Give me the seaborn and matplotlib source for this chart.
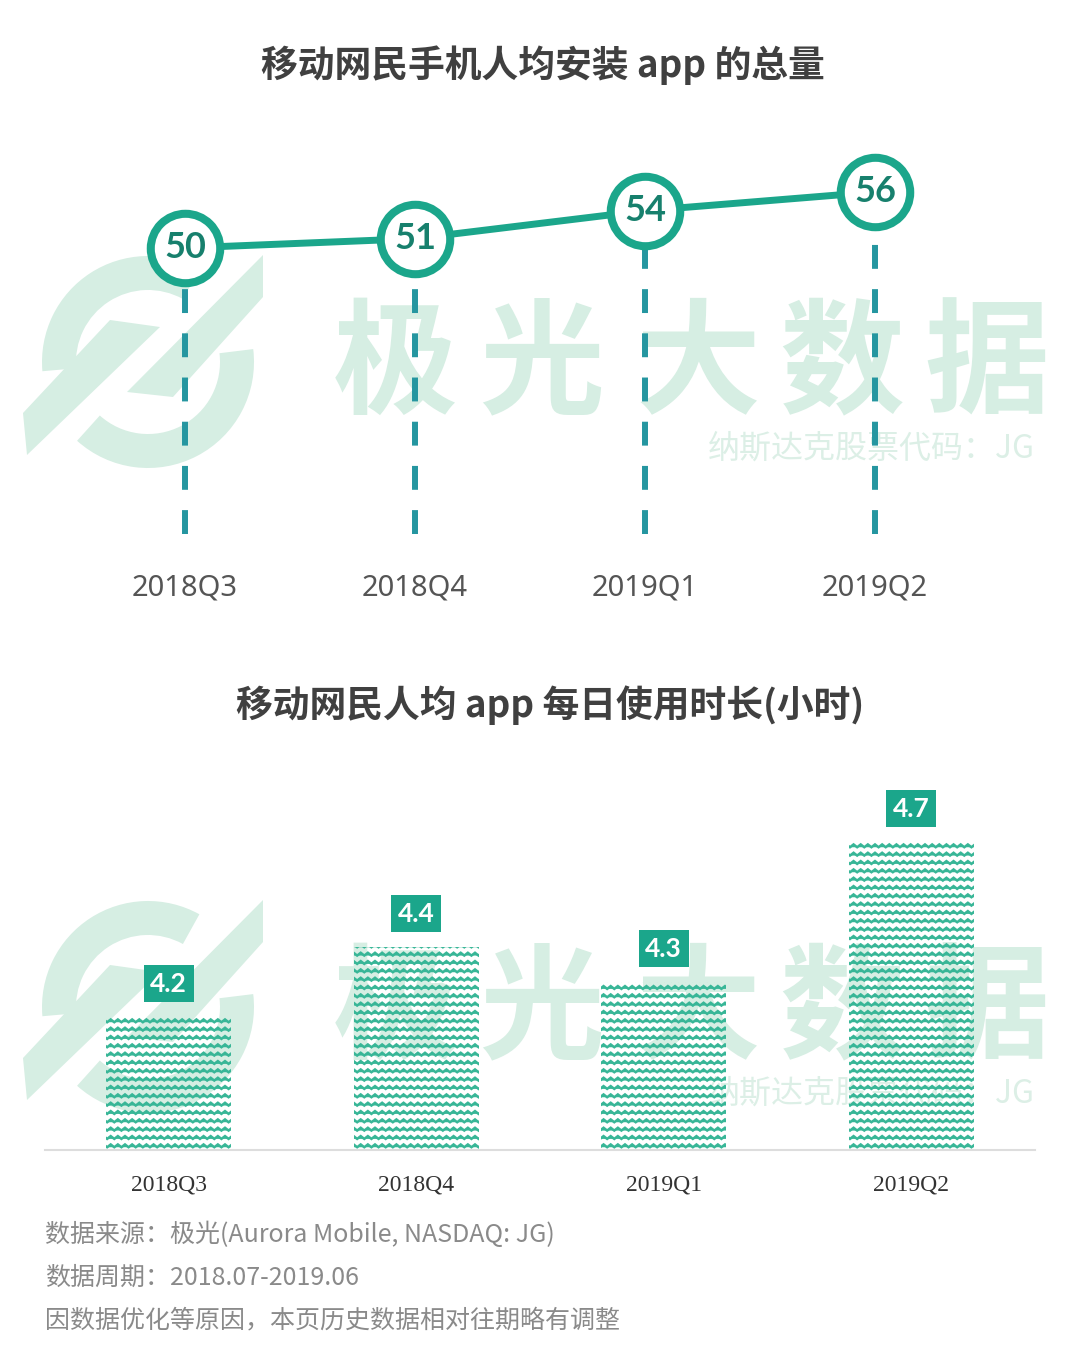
import warnings
import numpy as np
import matplotlib
matplotlib.use('Agg')
import matplotlib.pyplot as plt
import matplotlib.hatch as mhatch
from matplotlib.path import Path
from matplotlib.transforms import Affine2D
from matplotlib.patches import Wedge, Polygon
import seaborn as sns

warnings.filterwarnings('ignore')

# Data
quarters = ['2018Q3', '2018Q4', '2019Q1', '2019Q2']
apps_per_user = [50, 51, 54, 56]
hours_per_day = [4.2, 4.4, 4.3, 4.7]

title_top = '移动网民手机人均安装 app 的总量'
title_bottom = '移动网民人均 app 每日使用时长(小时)'
notes = [
    '数据来源：极光(Aurora Mobile, NASDAQ: JG)',
    '数据周期：2018.07-2019.06',
    '因数据优化等原因，本页历史数据相对往期略有调整',
]
wm_chars = ['极', '光', '大', '数', '据']
wm_sub = '纳斯达克股票代码：JG'

# Colours
teal = '#1ba68b'
teal_dark = '#17806d'
dash_col = '#2596a0'
wave_col = '#38b697'
wm_col = '#d6eee3'


# Zigzag hatch, used as 'zz' (bar texture)
class ZigZagHatch(mhatch.HatchPatternBase):
    def __init__(self, hatch, density):
        self.num_rows = hatch.count('z') * density
        self.n_pts = 29
        self.num_vertices = self.num_rows * self.n_pts

    def set_vertices_and_codes(self, vertices, codes):
        xs = np.linspace(0, 1, self.n_pts)
        amp = np.where(np.arange(self.n_pts) % 2 == 0, -0.014, 0.014)
        for r in range(self.num_rows):
            y0 = (r + 0.5) / self.num_rows
            sl = slice(r * self.n_pts, (r + 1) * self.n_pts)
            vertices[sl, 0] = xs
            vertices[sl, 1] = y0 + amp
            codes[sl] = Path.LINETO
            codes[r * self.n_pts] = Path.MOVETO


mhatch._hatch_types.append(ZigZagHatch)

sns.set_theme(style='white')
plt.rcParams['font.family'] = ['Noto Sans CJK SC', 'DejaVu Sans']
plt.rcParams['hatch.linewidth'] = 1.8

W, H = 1080, 1350
fig = plt.figure(figsize=(10.8, 13.5), dpi=100)
fig.patch.set_facecolor('white')
px_tr = Affine2D().scale(1 / W, 1 / H) + fig.transFigure


def fx(px):
    return px / W


def fy(py):
    return 1 - py / H


# Watermarks (behind everything)
def draw_watermark(dy):
    cx, cy = 148, 362 + dy
    r_out, r_in = 106, 72
    for t1, t2 in [(61, 185), (228, 367)]:
        w = Wedge((cx, H - cy), r_out, t1, t2, width=r_out - r_in, transform=px_tr,
                  facecolor=wm_col, edgecolor='none', zorder=-5)
        fig.patches.append(w)
    for pts in [[(23, 413), (110, 320), (160, 327), (27, 455)],
                [(263, 255), (263, 297), (173, 397), (127, 392)]]:
        poly = Polygon([(x, H - (y + dy)) for x, y in pts], closed=True, transform=px_tr,
                       facecolor=wm_col, edgecolor='none', zorder=-5)
        fig.patches.append(poly)
    for ch, x in zip(wm_chars, [395, 542, 698, 842, 987]):
        fig.text(fx(x), fy(367 + dy), ch, fontsize=90, fontweight='bold', color=wm_col,
                 ha='center', va='center', zorder=-5)
    fig.text(fx(1035), fy(449 + dy), wm_sub, fontsize=23, color='#dcefe6',
             ha='right', va='center', zorder=-5)


draw_watermark(0)
draw_watermark(645)

# Titles
fig.text(0.503, fy(65), title_top, fontsize=26.5, fontweight='bold', color='#404040',
         ha='center', va='center')
fig.text(0.509, fy(705), title_bottom, fontsize=26.5, fontweight='bold', color='#404040',
         ha='center', va='center')

# Top chart: line with circle markers
ax1 = fig.add_axes([fx(70), fy(540), fx(920), 390 / H])
ax1.set_facecolor('none')
ymin_top = 18.7
sns.lineplot(x=quarters, y=apps_per_user, ax=ax1, color=teal, linewidth=5,
             marker='o', markersize=50, markerfacecolor='white',
             markeredgecolor=teal, markeredgewidth=5.8, zorder=3)
ax1.vlines(range(len(quarters)), ymin_top + 0.6, apps_per_user, colors=dash_col,
           linewidth=4.3, linestyles=(0, (4, 3.4)), zorder=2)
for i, v in enumerate(apps_per_user):
    ax1.text(i, v, str(v), ha='center', va='center', fontsize=26, fontweight='bold',
             color=teal_dark, family=['Lato', 'Liberation Sans'], zorder=4)
ax1.set_xlim(-0.5, 3.5)
ax1.set_ylim(ymin_top, 60.5)
ax1.set_yticks([])
ax1.set_xlabel('')
ax1.set_ylabel('')
ax1.tick_params(axis='x', length=0, pad=24, labelsize=21, labelcolor='#555555')
for lab in ax1.get_xticklabels():
    lab.set_family(['Noto Sans', 'DejaVu Sans'])
sns.despine(ax=ax1, left=True, bottom=True)

# Bottom chart: bars with labels in boxes
ax2 = fig.add_axes([fx(45), fy(1150), fx(990), 370 / H])
ax2.set_facecolor('none')
sns.barplot(x=quarters, y=hours_per_day, ax=ax2, width=0.505, color=wave_col,
            saturation=1, zorder=2)
for p in ax2.patches:
    p.set_facecolor('none')
    p.set_edgecolor(wave_col)
    p.set_hatch('zz')
    p.set_linewidth(0)
for i, v in enumerate(hours_per_day):
    ax2.annotate(f'{v}', (i, v), xytext=(0, 24), textcoords='offset points',
                 ha='center', va='center', fontsize=19, fontweight='bold', color='white',
                 family=['Lato', 'Liberation Sans'], zorder=4,
                 bbox=dict(boxstyle='square,pad=0.25', facecolor=teal, edgecolor='none'))
ax2.set_xlim(-0.5, 3.5)
ax2.set_ylim(3.82, 4.877)
ax2.set_yticks([])
ax2.set_xlabel('')
ax2.set_ylabel('')
ax2.tick_params(axis='x', length=0, pad=18, labelsize=17, labelcolor='#333333')
for lab in ax2.get_xticklabels():
    lab.set_family(['Liberation Serif', 'DejaVu Serif'])
sns.despine(ax=ax2, left=True)
ax2.spines['bottom'].set_color('#dddddd')
ax2.spines['bottom'].set_linewidth(1.5)

# Footnotes
for k, t in enumerate(notes):
    fig.text(fx(45), fy(1235 + 42.5 * k), t, fontsize=18, color='#8a8a8a',
             ha='left', va='center', style='italic')

fig.savefig('out.png', dpi=100, facecolor='white')
